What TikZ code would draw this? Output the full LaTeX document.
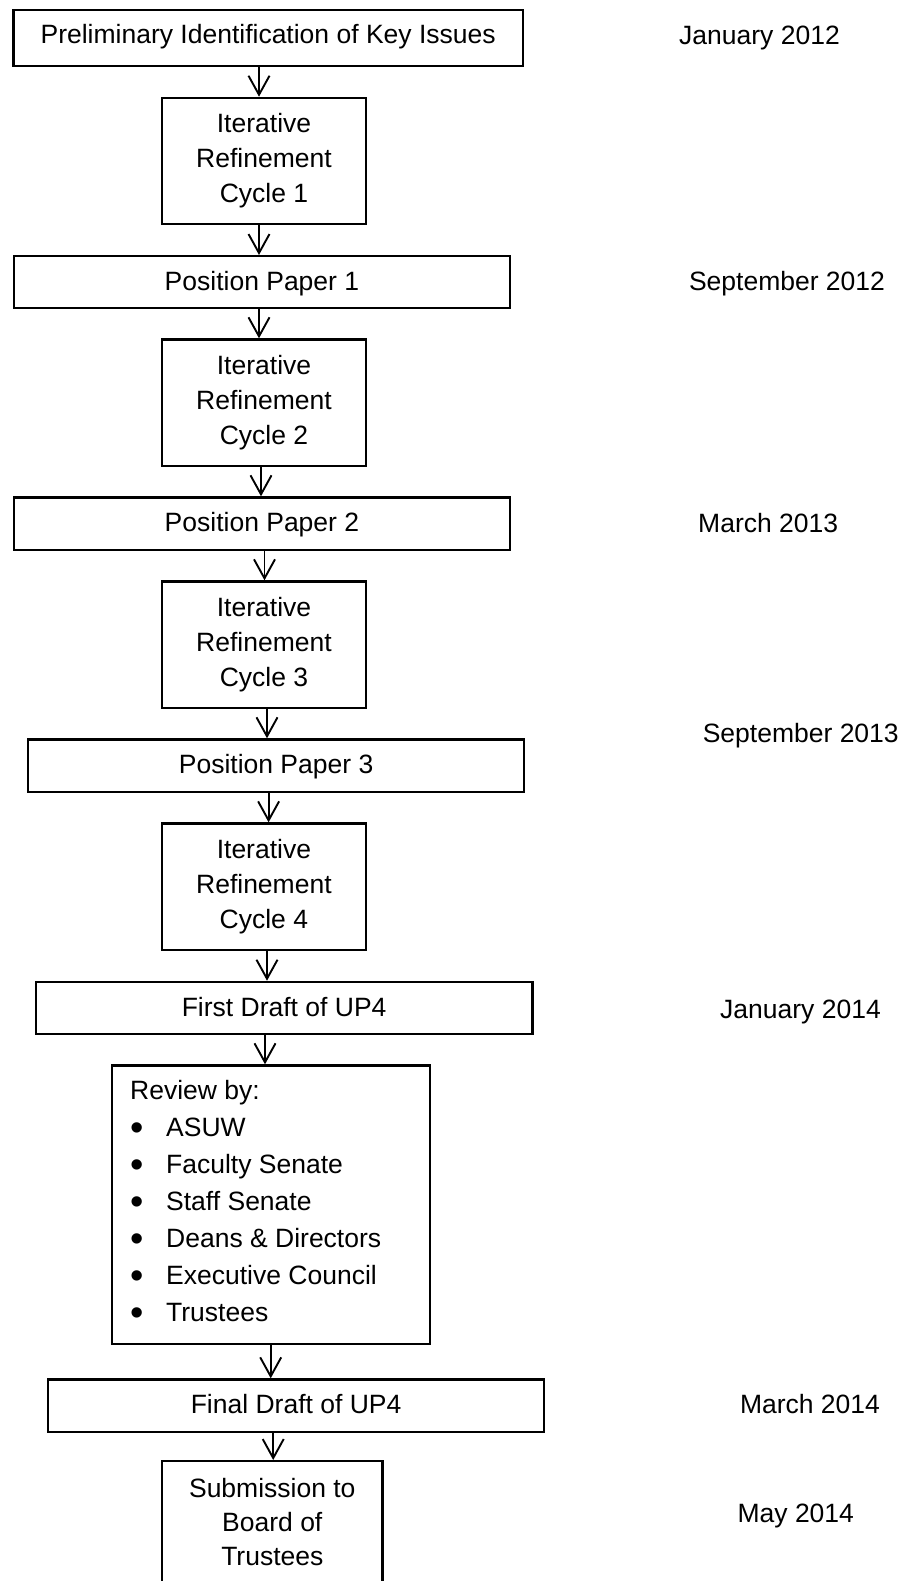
\documentclass[tikz,border=0pt]{standalone}
\usepackage{fontspec}
\setmainfont{Liberation Sans}
\usetikzlibrary{arrows.meta}
\newcommand{\boxlines}[1]{\begin{tabular}[t]{@{}c@{}}#1\end{tabular}}
\newcommand{\listitem}{\hspace*{7pt}\makebox[0pt]{\raisebox{-4.5pt}{\fontsize{38pt}{37pt}\selectfont •}}\hspace*{29pt}}
\begin{document}
\begin{tikzpicture}[x=1pt,y=-1pt,
  box/.style={draw, line width=2.2pt, inner sep=0pt, anchor=north west,
    font=\fontsize{26.5pt}{35pt}\selectfont},
  ppbox/.style={box, text height=34.5pt, text depth=17.7pt},
  cycbox/.style={box, minimum width=204.2pt, text height=35pt, text depth=91.2pt},
  arr/.style={line width=1.9pt, -{Straight Barb[length=19pt,width=21pt]}},
  datelbl/.style={anchor=base west, inner sep=0pt, font=\fontsize{26.5pt}{35pt}\selectfont},
  txt/.style={anchor=base west, inner sep=0pt}]
\useasboundingbox (0,0) rectangle (912,1581);
\clip (0,0) rectangle (912,1581);

% boxes
\node[box, minimum width=509.3pt, text height=33.7pt, text depth=22.3pt] (b1) at (12.4,9)
  {Preliminary Identification of Key Issues};
\node[cycbox] (c1) at (160.8,96.7) {\boxlines{Iterative\\Refinement\\Cycle 1}};
\node[ppbox, minimum width=496.3pt] (p1) at (12.7,255) {Position Paper 1};
\node[cycbox] (c2) at (160.8,338.3) {\boxlines{Iterative\\Refinement\\Cycle 2}};
\node[ppbox, minimum width=496.3pt] (p2) at (12.7,496.3) {Position Paper 2};
\node[cycbox] (c3) at (160.8,580.3) {\boxlines{Iterative\\Refinement\\Cycle 3}};
\node[ppbox, minimum width=496.4pt] (p3) at (26.8,738.3) {Position Paper 3};
\node[cycbox] (c4) at (160.7,822.3) {\boxlines{Iterative\\Refinement\\Cycle 4}};
\node[ppbox, minimum width=496.8pt] (fd) at (34.6,980.7) {First Draft of UP4};
\node[box, minimum width=317.6pt, minimum height=278.4pt] (rv) at (111,1064.3) {};
\node[txt, font=\fontsize{26.5pt}{37pt}\selectfont] (rvt) at (130,1099.3)
  {\begin{tabular}[t]{@{}l@{}}
   Review by:\\
   \listitem ASUW\\
   \listitem Faculty Senate\\
   \listitem Staff Senate\\
   \listitem Deans \& Directors\\
   \listitem Executive Council\\
   \listitem Trustees
   \end{tabular}};
\node[ppbox, minimum width=496.4pt] (fn) at (46.8,1378.3) {Final Draft of UP4};
\node[box, minimum width=220.4pt, text height=36pt, text depth=110pt,
  font=\fontsize{26.5pt}{34pt}\selectfont] (sb) at (161,1460)
  {\boxlines{Submission to\\Board of\\Trustees}};

% dates
\node[datelbl] (d1) at (679,44.2) {January 2012};
\node[datelbl] (d2) at (688.8,290.6) {September 2012};
\node[datelbl] (d3) at (698,532) {March 2013};
\node[datelbl] (d4) at (702.6,742) {September 2013};
\node[datelbl] (d5) at (720,1018) {January 2014};
\node[datelbl] (d6) at (739.8,1413.7) {March 2014};
\node[datelbl] (d7) at (737.4,1522) {May 2014};

% connectors
\draw[arr] (259,0 |- b1.south) -- (259,0 |- c1.north);
\draw[arr] (259,0 |- c1.south) -- (259,0 |- p1.north);
\draw[arr] (259,0 |- p1.south) -- (259,0 |- c2.north);
\draw[arr] (261,0 |- c2.south) -- (261,0 |- p2.north);
\draw[arr] (264.5,0 |- p2.south) -- (264.5,0 |- c3.north);
\draw[arr] (267,0 |- c3.south) -- (267,0 |- p3.north);
\draw[arr] (268.6,0 |- p3.south) -- (268.6,0 |- c4.north);
\draw[arr] (267,0 |- c4.south) -- (267,0 |- fd.north);
\draw[arr] (265,0 |- fd.south) -- (265,0 |- rv.north);
\draw[arr] (270.7,0 |- rv.south) -- (270.7,0 |- fn.north);
\draw[arr] (273.2,0 |- fn.south) -- (273.2,0 |- sb.north);
\end{tikzpicture}
\end{document}
